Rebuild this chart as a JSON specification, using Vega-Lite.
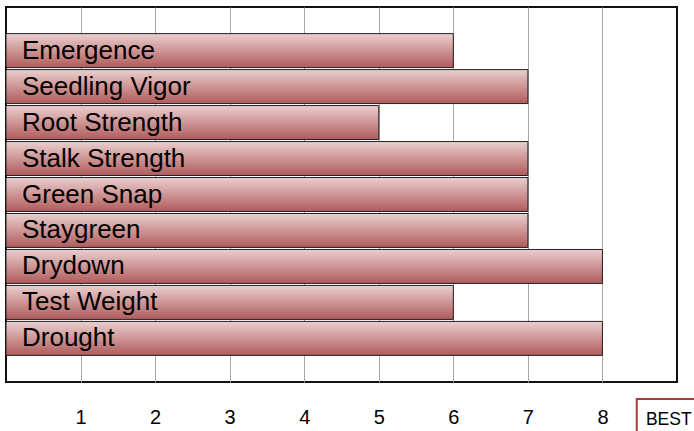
{
  "$schema": "https://vega.github.io/schema/vega-lite/v6.json",
  "width": 671,
  "height": 375,
  "autosize": {"type": "none"},
  "padding": {"left": 6, "top": 7, "right": 17, "bottom": 49},
  "background": "white",
  "config": {
    "view": {"stroke": "#111111", "strokeWidth": 2},
    "font": "Liberation Sans"
  },
  "datasets": {
    "traits": [
      {"trait": "Emergence", "score": 6},
      {"trait": "Seedling Vigor", "score": 7},
      {"trait": "Root Strength", "score": 5},
      {"trait": "Stalk Strength", "score": 7},
      {"trait": "Green Snap", "score": 7},
      {"trait": "Staygreen", "score": 7},
      {"trait": "Drydown", "score": 8},
      {"trait": "Test Weight", "score": 6},
      {"trait": "Drought", "score": 8}
    ],
    "best": [{"label": "BEST"}]
  },
  "layer": [
    {
      "data": {"name": "traits"},
      "layer": [
        {
          "mark": {
            "type": "bar",
            "stroke": "#222222",
            "strokeWidth": 1,
            "fill": {
              "gradient": "linear",
              "x1": 0, "y1": 0, "x2": 0, "y2": 1,
              "stops": [
                {"offset": 0, "color": "#ebcfcf"},
                {"offset": 1, "color": "#b05b5b"}
              ]
            }
          },
          "encoding": {
            "y": {
              "field": "trait", "type": "nominal", "sort": null,
              "scale": {"paddingInner": 0.056, "paddingOuter": 0.74},
              "axis": null
            },
            "x": {
              "field": "score", "type": "quantitative",
              "scale": {"domain": [0, 9], "nice": false, "zero": true},
              "axis": {
                "values": [1, 2, 3, 4, 5, 6, 7, 8],
                "format": "d",
                "grid": true,
                "gridColor": "#a8a8a8",
                "gridWidth": 1,
                "ticks": false,
                "domain": false,
                "labelFontSize": 20,
                "labelColor": "#000000",
                "labelFont": "Liberation Sans",
                "labelPadding": 25,
                "title": null
              }
            }
          }
        },
        {
          "mark": {
            "type": "text",
            "align": "left",
            "baseline": "alphabetic",
            "dx": 16,
            "dy": 8,
            "fontSize": 26,
            "font": "Liberation Sans",
            "color": "#000000"
          },
          "encoding": {
            "y": {"field": "trait", "type": "nominal", "sort": null},
            "x": {"datum": 0, "type": "quantitative"},
            "text": {"field": "trait"}
          }
        }
      ]
    },
    {
      "data": {"name": "best"},
      "layer": [
        {
          "mark": {"type": "rect", "fill": "white", "stroke": "#a83a3a", "strokeWidth": 2, "clip": false},
          "encoding": {
            "x": {"datum": 8.46, "type": "quantitative"},
            "x2": {"datum": 9.6},
            "y": {"datum": -17, "type": "quantitative", "scale": {"domain": [0, 375], "nice": false, "zero": false}, "axis": null},
            "y2": {"datum": -70}
          }
        },
        {
          "mark": {"type": "text", "align": "center", "baseline": "alphabetic", "fontSize": 17.5, "font": "Liberation Sans", "color": "#000000", "clip": false},
          "encoding": {
            "x": {"datum": 8.89, "type": "quantitative"},
            "y": {"datum": -43, "type": "quantitative"},
            "text": {"field": "label"}
          }
        }
      ]
    }
  ],
  "resolve": {"scale": {"y": "independent"}, "axis": {"y": "independent"}}
}
